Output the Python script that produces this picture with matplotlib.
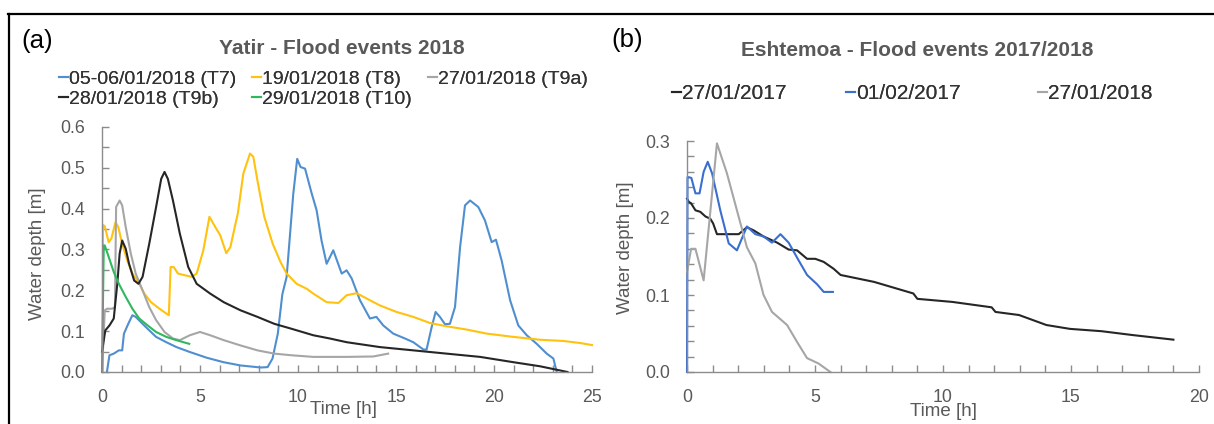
import numpy as np
import matplotlib.pyplot as plt
from matplotlib.ticker import MultipleLocator, FormatStrFormatter
from matplotlib.lines import Line2D

plt.rcParams['font.family'] = ['Liberation Sans', 'DejaVu Sans']

W, H = 1214, 424

# ---- panel (a): Yatir, water depth [m] vs time [h] ----
t7_t = [0.25, 0.38, 0.6, 0.86, 1.03, 1.12, 1.34, 1.55, 1.72, 2.07, 2.41, 2.76, 3.28, 3.8, 4.48,
        5.34, 6.2, 7.07, 8.1, 8.45, 8.7, 8.97, 9.2, 9.42, 9.76, 9.96, 10.13, 10.36, 10.7, 10.95,
        11.2, 11.46, 11.8, 12.23, 12.48, 12.74, 13.16, 13.67, 14.0, 14.35, 14.86, 15.46, 15.88,
        16.4, 16.56, 16.82, 17.02, 17.24, 17.5, 17.75, 18.01, 18.27, 18.52, 18.78, 19.2, 19.54,
        19.88, 20.1, 20.39, 20.82, 21.24, 21.67, 22.18, 22.69, 23.03, 23.2]
t7_d = [0.0, 0.041, 0.045, 0.053, 0.053, 0.094, 0.118, 0.139, 0.135, 0.118, 0.102, 0.086, 0.073,
        0.061, 0.049, 0.035, 0.024, 0.016, 0.011, 0.012, 0.033, 0.094, 0.19, 0.233, 0.437, 0.522,
        0.502, 0.498, 0.437, 0.396, 0.322, 0.265, 0.298, 0.241, 0.249, 0.229, 0.176, 0.131, 0.135,
        0.114, 0.094, 0.082, 0.073, 0.055, 0.055, 0.11, 0.147, 0.135, 0.117, 0.118, 0.159, 0.306,
        0.408, 0.42, 0.404, 0.371, 0.318, 0.324, 0.273, 0.176, 0.114, 0.09, 0.069, 0.045, 0.033,
        0.0]

t8_t = [0.03, 0.05, 0.14, 0.34, 0.48, 0.69, 0.83, 1.03, 1.29, 1.55, 1.9, 2.16, 2.5, 2.93, 3.41,
        3.5, 3.66, 3.88, 4.22, 4.57, 4.83, 5.17, 5.48, 5.78, 6.03, 6.34, 6.55, 6.81, 6.93, 7.21,
        7.55, 7.72, 7.93, 8.28, 8.71, 9.1, 9.42, 9.93, 10.44, 10.78, 11.46, 12.06, 12.48, 12.99,
        13.5, 14.18, 15.03, 15.88, 16.73, 17.58, 18.6, 19.63, 20.99, 22.35, 23.54, 24.39, 25.0]
t8_d = [0.0, 0.36, 0.357, 0.318, 0.327, 0.367, 0.355, 0.314, 0.273, 0.241, 0.216, 0.192, 0.171,
        0.155, 0.139, 0.257, 0.257, 0.241, 0.237, 0.233, 0.241, 0.298, 0.38, 0.355, 0.335, 0.291,
        0.306, 0.363, 0.388, 0.486, 0.535, 0.527, 0.469, 0.38, 0.314, 0.27, 0.241, 0.216, 0.204,
        0.192, 0.171, 0.169, 0.188, 0.193, 0.18, 0.163, 0.147, 0.135, 0.12, 0.112, 0.104, 0.094,
        0.086, 0.079, 0.076, 0.071, 0.066]

t9a_t = [0.0, 0.14, 0.26, 0.52, 0.66, 0.72, 0.9, 1.03, 1.21, 1.47, 1.72, 2.07, 2.41, 2.76, 3.19,
         3.62, 3.97, 4.48, 5.0, 5.52, 6.21, 7.07, 7.93, 8.79, 9.66, 10.78, 12.48, 13.84, 14.6]
t9a_d = [0.0, 0.151, 0.155, 0.155, 0.159, 0.404, 0.42, 0.408, 0.355, 0.29, 0.241, 0.2, 0.159,
         0.127, 0.098, 0.082, 0.078, 0.09, 0.098, 0.09, 0.078, 0.065, 0.053, 0.045, 0.041, 0.037,
         0.037, 0.038, 0.045]

t9b_t = [0.0, 0.17, 0.38, 0.6, 0.78, 0.9, 1.03, 1.21, 1.38, 1.64, 1.86, 2.07, 2.41, 2.76, 3.02,
         3.19, 3.36, 3.62, 3.97, 4.4, 4.83, 5.52, 6.21, 7.07, 7.93, 8.79, 9.66, 10.78, 11.63,
         12.48, 14.18, 15.88, 17.58, 19.29, 20.99, 22.35, 23.75]
t9b_d = [0.05, 0.102, 0.114, 0.131, 0.216, 0.29, 0.322, 0.302, 0.265, 0.224, 0.216, 0.233, 0.314,
         0.404, 0.473, 0.49, 0.473, 0.42, 0.339, 0.257, 0.216, 0.192, 0.171, 0.151, 0.135, 0.118,
         0.106, 0.09, 0.082, 0.073, 0.061, 0.053, 0.045, 0.037, 0.024, 0.014, 0.0]

t10_t = [0.0, 0.09, 0.14, 0.34, 0.6, 0.86, 1.21, 1.55, 1.9, 2.33, 2.76, 3.28, 3.79, 4.45]
t10_d = [0.0, 0.31, 0.31, 0.282, 0.245, 0.216, 0.184, 0.155, 0.131, 0.114, 0.098, 0.086, 0.078,
         0.069]

# ---- panel (b): Eshtemoa ----
e17a_t = [0.0, 0.07, 0.16, 0.33, 0.52, 0.72, 0.91, 1.02, 1.17, 2.02, 2.34, 2.6, 2.99, 3.52, 3.97,
          4.3, 4.69, 5.01, 5.34, 5.73, 6.0, 7.31, 8.84, 9.0, 10.37, 11.9, 12.05, 12.97, 14.04,
          14.96, 16.19, 17.4, 19.0]
e17a_d = [0.225, 0.221, 0.219, 0.21, 0.208, 0.202, 0.199, 0.193, 0.179, 0.179, 0.188, 0.184,
          0.176, 0.168, 0.159, 0.158, 0.147, 0.147, 0.143, 0.134, 0.126, 0.117, 0.102, 0.095,
          0.091, 0.084, 0.078, 0.074, 0.061, 0.056, 0.053, 0.048, 0.042]

e17b_t = [0.0, 0.02, 0.07, 0.17, 0.33, 0.49, 0.65, 0.81, 0.98, 1.3, 1.63, 1.95, 2.34, 2.67, 2.99,
          3.32, 3.65, 3.97, 4.36, 4.69, 5.08, 5.34, 5.7]
e17b_d = [0.0, 0.253, 0.253, 0.252, 0.232, 0.232, 0.26, 0.273, 0.258, 0.21, 0.167, 0.158, 0.189,
          0.179, 0.176, 0.168, 0.179, 0.168, 0.145, 0.126, 0.114, 0.104, 0.104]

e18_t = [0.0, 0.16, 0.33, 0.65, 1.17, 1.56, 1.95, 2.34, 2.67, 2.99, 3.32, 3.91, 4.3, 4.69, 5.14,
         5.6]
e18_d = [0.13, 0.16, 0.16, 0.119, 0.297, 0.258, 0.21, 0.162, 0.141, 0.1, 0.078, 0.061, 0.039,
         0.018, 0.011, 0.0]

BLUE = '#4f8fcf'
YELLOW = '#ffc20e'
GRAY = '#a6a6a6'
BLACK = '#262626'
GREEN = '#2fb85e'
AXIS = '#8c8c8c'
TXT = '#595959'


def style_axes(ax, xmax, xmajor, ymax, ymajor, yminor):
    for s in ['top', 'right']:
        ax.spines[s].set_visible(False)
    for s in ['left', 'bottom']:
        ax.spines[s].set_color(AXIS)
        ax.spines[s].set_linewidth(1.0)
    ax.set_xlim(0, xmax)
    ax.set_ylim(0, ymax)
    ax.xaxis.set_major_locator(MultipleLocator(xmajor))
    ax.xaxis.set_minor_locator(MultipleLocator(1))
    ax.yaxis.set_major_locator(MultipleLocator(ymajor))
    ax.yaxis.set_minor_locator(MultipleLocator(yminor))
    ax.yaxis.set_major_formatter(FormatStrFormatter('%.1f'))
    ax.tick_params(which='both', direction='in', length=5, width=1, color=AXIS,
                   labelsize=12.8, labelcolor=TXT)
    ax.tick_params(axis='x', which='major', pad=12)
    ax.tick_params(axis='y', which='major', pad=12)
    ax.patch.set_alpha(0)


fig = plt.figure(figsize=(W / 100, H / 100), dpi=100)

axA = fig.add_axes([102 / W, 1 - 372 / H, (592 - 102) / W, (372 - 127) / H])
axB = fig.add_axes([687 / W, 1 - 372 / H, (1199 - 687) / W, (372 - 141) / H])

lw = 1.5
la7, = axA.plot(t7_t, t7_d, color=BLUE, lw=lw, label='05-06/01/2018 (T7)')
la8, = axA.plot(t8_t, t8_d, color=YELLOW, lw=lw, label='19/01/2018 (T8)')
la9a, = axA.plot(t9a_t, t9a_d, color=GRAY, lw=lw, label='27/01/2018 (T9a)')
la9b, = axA.plot(t9b_t, t9b_d, color=BLACK, lw=lw, label='28/01/2018 (T9b)')
la10, = axA.plot(t10_t, t10_d, color=GREEN, lw=lw, label='29/01/2018 (T10)')
style_axes(axA, 25, 5, 0.6, 0.1, 0.05)

lb1, = axB.plot(e17a_t, e17a_d, color=BLACK, lw=lw, label='27/01/2017')
lb2, = axB.plot(e17b_t, e17b_d, color='#3a6fd0', lw=lw, label='01/02/2017')
lb3, = axB.plot(e18_t, e18_d, color=GRAY, lw=lw, label='27/01/2018')
style_axes(axB, 20, 5, 0.3, 0.1, 0.02)

for ax in (axA, axB):
    for l in ax.lines:
        l.set_clip_on(False)

# axis labels
fig.text(38 / W, 1 - 254 / H, 'Water depth [m]', rotation=90, ha='center', va='center',
         fontsize=13.5, color=TXT)
fig.text(625 / W, 1 - 248 / H, 'Water depth [m]', rotation=90, ha='center', va='center',
         fontsize=13.5, color=TXT)
fig.text(343 / W, 1 - 410 / H, 'Time [h]', ha='center', va='center', fontsize=13.5, color=TXT)
fig.text(944 / W, 1 - 412 / H, 'Time [h]', ha='center', va='center', fontsize=13.5, color=TXT)

# titles and panel letters
fig.text(342 / W, 1 - 48 / H, 'Yatir - Flood events 2018', ha='center', va='center',
         fontsize=15, fontweight='bold', color=TXT)
fig.text(917 / W, 1 - 50 / H, 'Eshtemoa - Flood events 2017/2018', ha='center', va='center',
         fontsize=15, fontweight='bold', color=TXT)
fig.text(21 / W, 1 - 41 / H, '(a)', ha='left', va='center', fontsize=18.5, color='black')
fig.text(611 / W, 1 - 40 / H, '(b)', ha='left', va='center', fontsize=18.5, color='black')

# legends: one block per column so the columns sit at the reference positions
leg_kw = dict(frameon=False, handlelength=0.45, handletextpad=0.05,
              labelcolor='#333333', borderaxespad=0, borderpad=0, labelspacing=0.15,
              loc='upper left')
leg_cols_a = [([la7, la9b], 59), ([la8, la10], 252), ([la9a], 428)]
for hs, x in leg_cols_a:
    fig.add_artist(fig.legend(hs, [h.get_label() for h in hs], fontsize=14,
                              bbox_to_anchor=(x / W, 1 - 70 / H), **leg_kw))
leg_cols_b = [([lb1], 672), ([lb2], 846), ([lb3], 1038)]
for hs, x in leg_cols_b:
    fig.add_artist(fig.legend(hs, [h.get_label() for h in hs], fontsize=15,
                              bbox_to_anchor=(x / W, 1 - 84 / H), **leg_kw))

# outer frame (top and left edges visible)
fig.add_artist(Line2D([8 / W, 1], [1 - 14 / H, 1 - 14 / H], color='black', lw=1.6,
                      transform=fig.transFigure))
fig.add_artist(Line2D([9 / W, 9 / W], [0, 1 - 14 / H], color='black', lw=1.6,
                      transform=fig.transFigure))

fig.savefig('out.png', dpi=100)
